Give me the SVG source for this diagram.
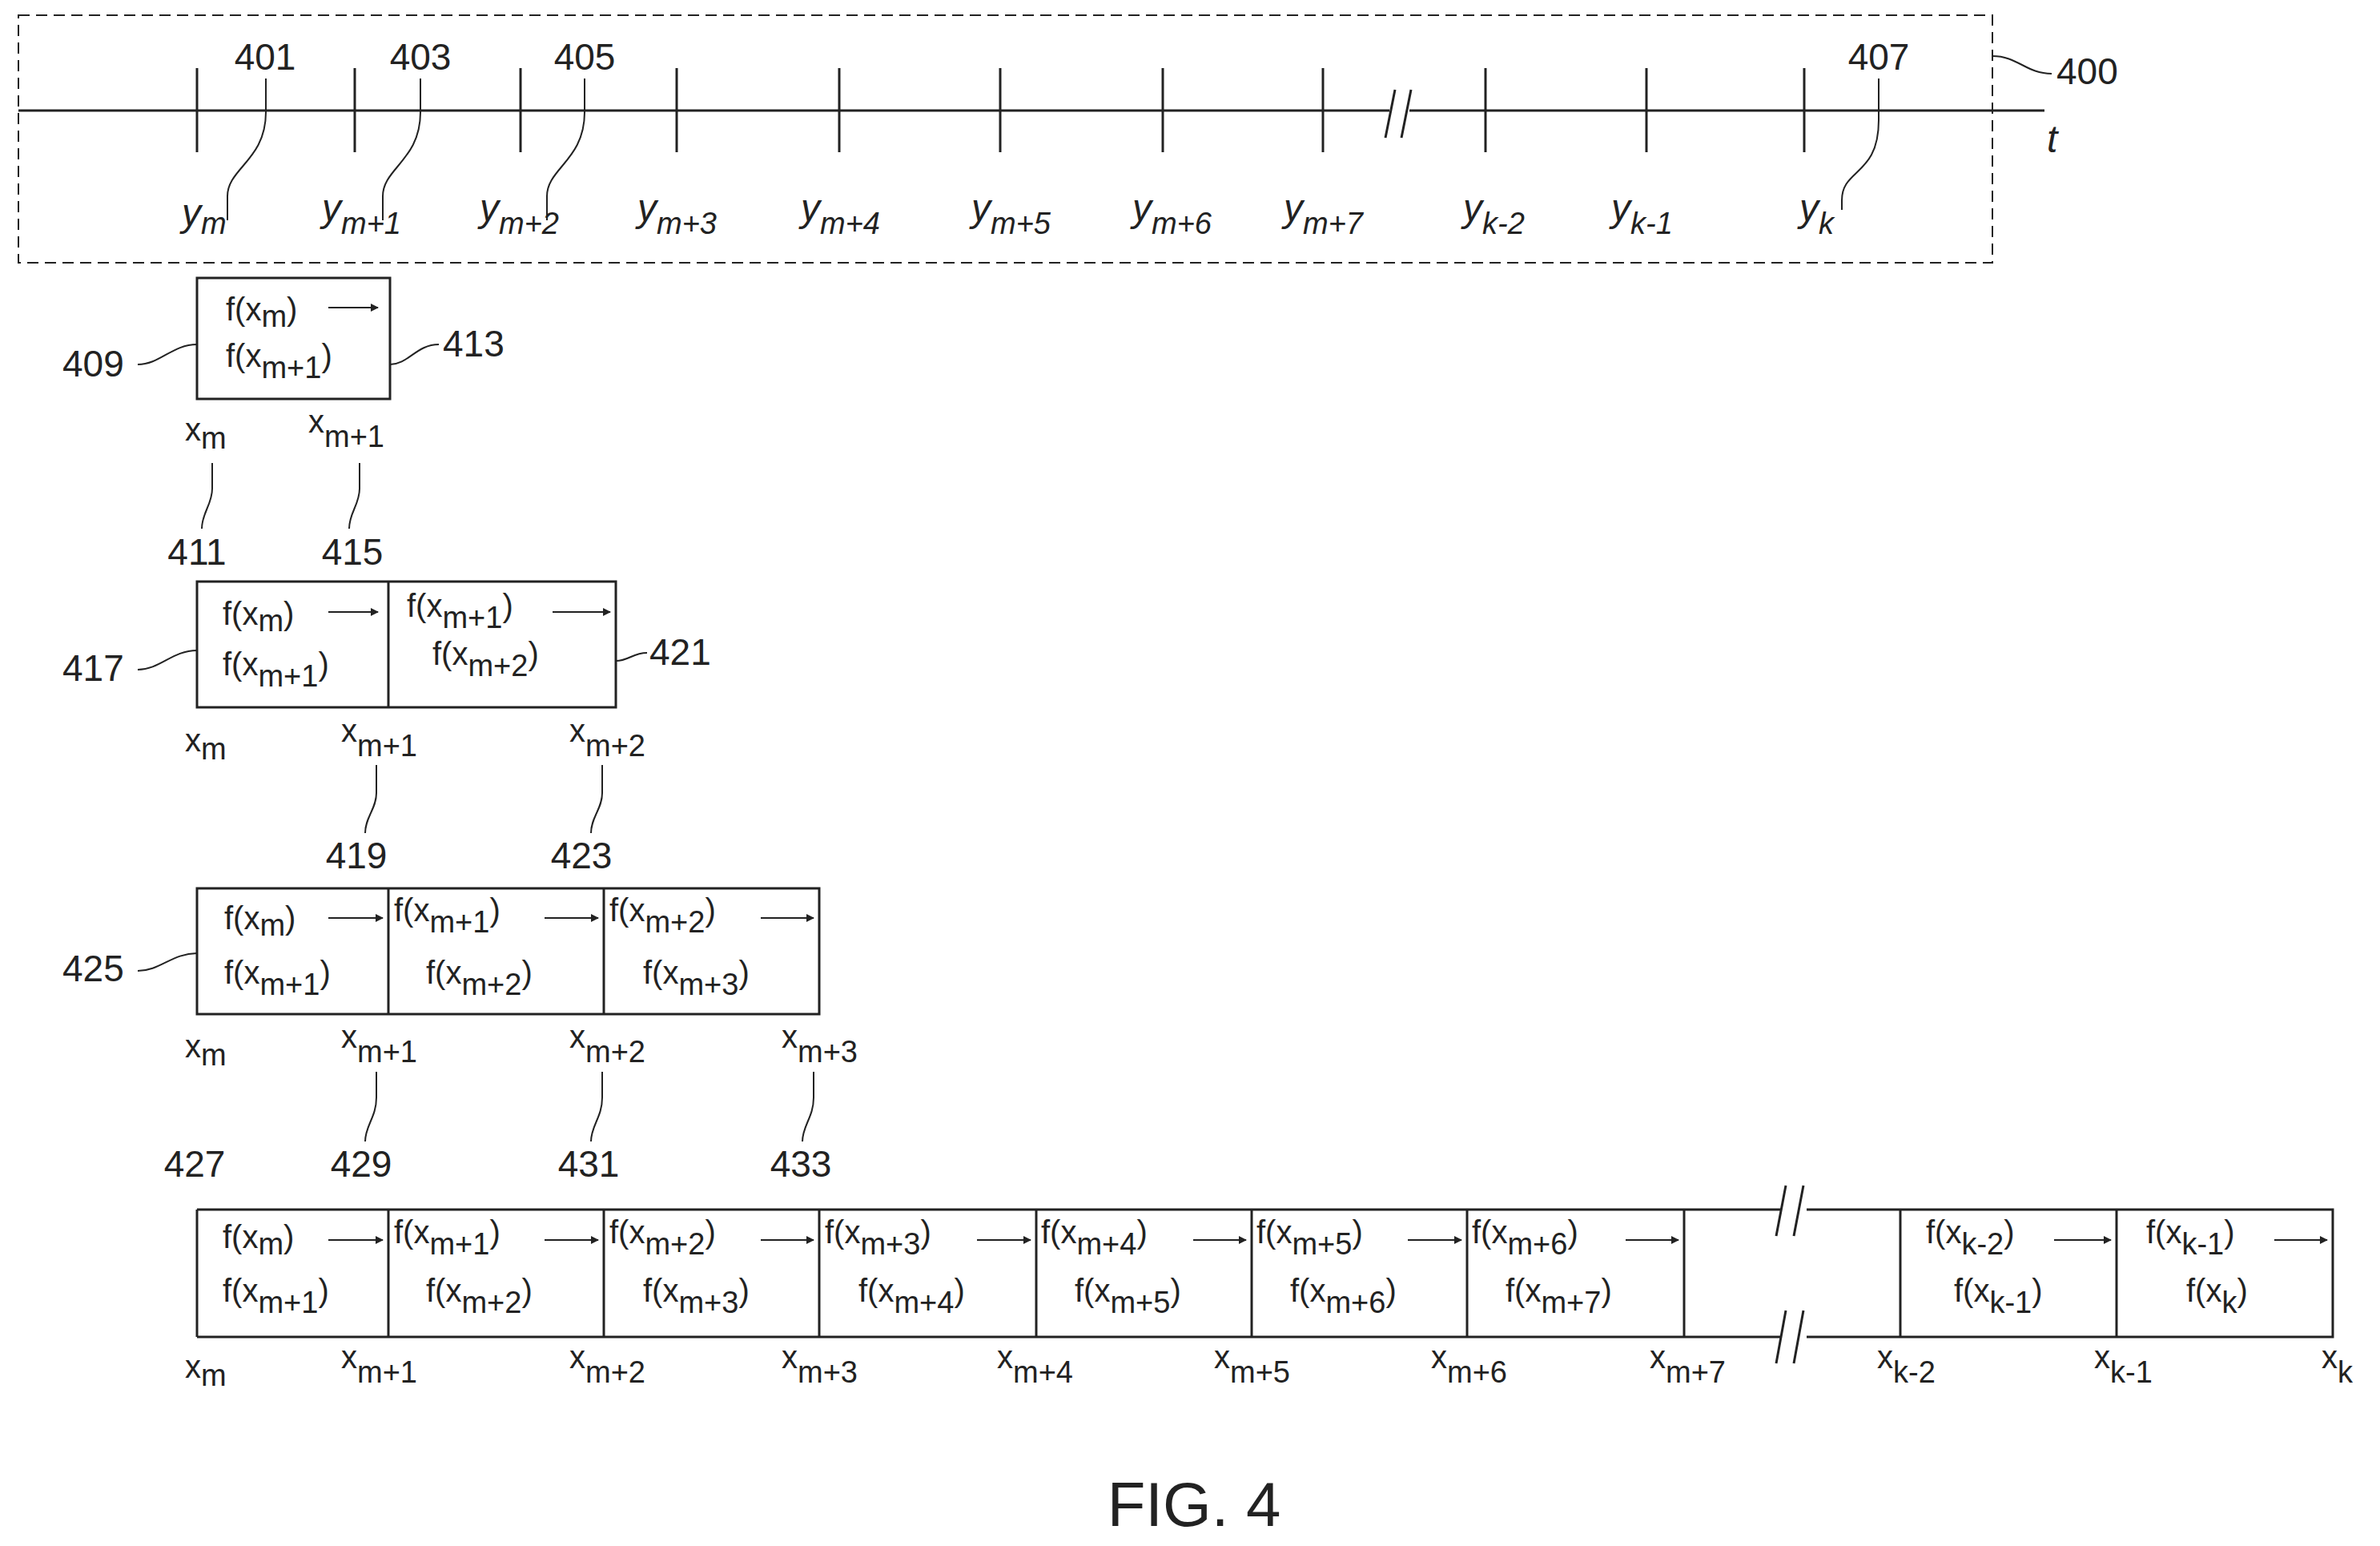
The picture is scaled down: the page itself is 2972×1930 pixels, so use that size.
<svg xmlns="http://www.w3.org/2000/svg" width="2972" height="1930" viewBox="0 0 2972 1930">
<style>
text{font-family:"Liberation Sans",Arial,sans-serif;fill:#222}
.f{font-size:40px}
.n{font-size:46px}
.y{font-size:48px;font-style:italic}
.s{font-size:38px}
.ln{stroke:#222;stroke-width:3;fill:none}
.lt{stroke:#222;stroke-width:2;fill:none}
.bx{stroke:#222;stroke-width:3;fill:#fff}
</style>
<defs>
<marker id="ah" viewBox="0 0 10 10" refX="9" refY="5" markerWidth="5" markerHeight="5" orient="auto"><path d="M0,0 L10,5 L0,10 z" fill="#222"/></marker>
</defs>
<g id="timeline">
<rect x="23" y="19" width="2465" height="309" fill="none" stroke="#222" stroke-width="2" stroke-dasharray="14,8"/>
<line class="ln" x1="23" y1="138" x2="1735" y2="138"/>
<line class="ln" x1="1760" y1="138" x2="2553" y2="138"/>
<path class="ln" d="M1730,172 L1742,112 M1750,172 L1762,112"/>
<g class="ln">
<line x1="246" y1="85" x2="246" y2="190"/><line x1="443" y1="85" x2="443" y2="190"/><line x1="650" y1="85" x2="650" y2="190"/><line x1="845" y1="85" x2="845" y2="190"/><line x1="1048" y1="85" x2="1048" y2="190"/><line x1="1249" y1="85" x2="1249" y2="190"/><line x1="1452" y1="85" x2="1452" y2="190"/><line x1="1652" y1="85" x2="1652" y2="190"/><line x1="1855" y1="85" x2="1855" y2="190"/><line x1="2056" y1="85" x2="2056" y2="190"/><line x1="2253" y1="85" x2="2253" y2="190"/>
</g>
<text class="y" x="2556" y="190">t</text>
<text class="y" x="227" y="282">y<tspan class="s" dy="10">m</tspan></text>
<text class="y" x="402" y="276">y<tspan class="s" dy="16">m+1</tspan></text>
<text class="y" x="599" y="276">y<tspan class="s" dy="16">m+2</tspan></text>
<text class="y" x="796" y="276">y<tspan class="s" dy="16">m+3</tspan></text>
<text class="y" x="1000" y="276">y<tspan class="s" dy="16">m+4</tspan></text>
<text class="y" x="1213" y="276">y<tspan class="s" dy="16">m+5</tspan></text>
<text class="y" x="1414" y="276">y<tspan class="s" dy="16">m+6</tspan></text>
<text class="y" x="1603" y="276">y<tspan class="s" dy="16">m+7</tspan></text>
<text class="y" x="1827" y="276">y<tspan class="s" dy="16">k-2</tspan></text>
<text class="y" x="2012" y="276">y<tspan class="s" dy="16">k-1</tspan></text>
<text class="y" x="2247" y="276">y<tspan class="s" dy="16">k</tspan></text>
<text class="n" x="331" y="87" text-anchor="middle">401</text>
<text class="n" x="525" y="87" text-anchor="middle">403</text>
<text class="n" x="730" y="87" text-anchor="middle">405</text>
<text class="n" x="2346" y="87" text-anchor="middle">407</text>
<text class="n" x="2568" y="105">400</text>
</g>
<g id="box409">
<rect class="bx" x="246" y="347" width="241" height="151"/>
<text class="f" x="282" y="400">f(x<tspan class="s" dy="8">m</tspan><tspan dy="-8">)</tspan></text>
<line class="lt" x1="410" y1="384" x2="472" y2="384" marker-end="url(#ah)"/>
<text class="f" x="282" y="458">f(x<tspan class="s" dy="14">m+1</tspan><tspan dy="-14">)</tspan></text>
<text class="n" x="78" y="470">409</text>
<text class="n" x="553" y="445">413</text>
<text class="f" x="231" y="550">x<tspan class="s" dy="10">m</tspan></text>
<text class="f" x="385" y="540">x<tspan class="s" dy="18">m+1</tspan></text>
<text class="n" x="246" y="705" text-anchor="middle">411</text>
<text class="n" x="440" y="705" text-anchor="middle">415</text>
</g>
<g id="box417">
<rect class="bx" x="246" y="726" width="523" height="157"/>
<line class="ln" x1="485" y1="726" x2="485" y2="883"/>
<text class="f" x="278" y="780">f(x<tspan class="s" dy="8">m</tspan><tspan dy="-8">)</tspan></text>
<line class="lt" x1="410" y1="764" x2="472" y2="764" marker-end="url(#ah)"/>
<text class="f" x="278" y="843">f(x<tspan class="s" dy="14">m+1</tspan><tspan dy="-14">)</tspan></text>
<text class="f" x="508" y="770">f(x<tspan class="s" dy="14">m+1</tspan><tspan dy="-14">)</tspan></text>
<line class="lt" x1="690" y1="764" x2="762" y2="764" marker-end="url(#ah)"/>
<text class="f" x="540" y="830">f(x<tspan class="s" dy="14">m+2</tspan><tspan dy="-14">)</tspan></text>
<text class="n" x="78" y="850">417</text>
<text class="n" x="811" y="830">421</text>
<text class="f" x="231" y="938">x<tspan class="s" dy="10">m</tspan></text>
<text class="f" x="426" y="926">x<tspan class="s" dy="18">m+1</tspan></text>
<text class="f" x="711" y="926">x<tspan class="s" dy="18">m+2</tspan></text>
<text class="n" x="445" y="1084" text-anchor="middle">419</text>
<text class="n" x="726" y="1084" text-anchor="middle">423</text>
</g>
<g id="box425">
<rect class="bx" x="246" y="1109" width="777" height="157"/>
<line class="ln" x1="485" y1="1109" x2="485" y2="1266"/>
<line class="ln" x1="754" y1="1109" x2="754" y2="1266"/>
<text class="f" x="280" y="1160">f(x<tspan class="s" dy="8">m</tspan><tspan dy="-8">)</tspan></text>
<line class="lt" x1="410" y1="1146" x2="478" y2="1146" marker-end="url(#ah)"/>
<text class="f" x="280" y="1228">f(x<tspan class="s" dy="14">m+1</tspan><tspan dy="-14">)</tspan></text>
<text class="f" x="492" y="1150">f(x<tspan class="s" dy="14">m+1</tspan><tspan dy="-14">)</tspan></text>
<line class="lt" x1="680" y1="1146" x2="747" y2="1146" marker-end="url(#ah)"/>
<text class="f" x="532" y="1228">f(x<tspan class="s" dy="14">m+2</tspan><tspan dy="-14">)</tspan></text>
<text class="f" x="761" y="1150">f(x<tspan class="s" dy="14">m+2</tspan><tspan dy="-14">)</tspan></text>
<line class="lt" x1="950" y1="1146" x2="1016" y2="1146" marker-end="url(#ah)"/>
<text class="f" x="803" y="1228">f(x<tspan class="s" dy="14">m+3</tspan><tspan dy="-14">)</tspan></text>
<text class="n" x="78" y="1225">425</text>
<text class="f" x="231" y="1320">x<tspan class="s" dy="10">m</tspan></text>
<text class="f" x="426" y="1308">x<tspan class="s" dy="18">m+1</tspan></text>
<text class="f" x="711" y="1308">x<tspan class="s" dy="18">m+2</tspan></text>
<text class="f" x="976" y="1308">x<tspan class="s" dy="18">m+3</tspan></text>
<text class="n" x="243" y="1469" text-anchor="middle">427</text>
<text class="n" x="451" y="1469" text-anchor="middle">429</text>
<text class="n" x="735" y="1469" text-anchor="middle">431</text>
<text class="n" x="1000" y="1469" text-anchor="middle">433</text>
</g>
<g id="row-full">
<rect x="246" y="1510" width="2667" height="159" fill="#fff" stroke="none"/>
<path class="ln" d="M246,1510 L2224,1510 M2256,1510 L2913,1510 L2913,1669 L2256,1669 M2224,1669 L246,1669 Z"/>
<line class="ln" x1="246" y1="1510" x2="246" y2="1669"/>
<path class="ln" d="M2218,1543 L2230,1480 M2240,1543 L2252,1480 M2218,1702 L2230,1636 M2240,1702 L2252,1636"/>
<g class="ln">
<line x1="485" y1="1510" x2="485" y2="1669"/><line x1="754" y1="1510" x2="754" y2="1669"/><line x1="1023" y1="1510" x2="1023" y2="1669"/><line x1="1294" y1="1510" x2="1294" y2="1669"/><line x1="1563" y1="1510" x2="1563" y2="1669"/><line x1="1832" y1="1510" x2="1832" y2="1669"/><line x1="2103" y1="1510" x2="2103" y2="1669"/><line x1="2373" y1="1510" x2="2373" y2="1669"/><line x1="2643" y1="1510" x2="2643" y2="1669"/>
</g>
<g class="lt">
<line x1="410" y1="1548" x2="478" y2="1548" marker-end="url(#ah)"/>
<line x1="680" y1="1548" x2="747" y2="1548" marker-end="url(#ah)"/>
<line x1="950" y1="1548" x2="1016" y2="1548" marker-end="url(#ah)"/>
<line x1="1220" y1="1548" x2="1287" y2="1548" marker-end="url(#ah)"/>
<line x1="1490" y1="1548" x2="1556" y2="1548" marker-end="url(#ah)"/>
<line x1="1758" y1="1548" x2="1825" y2="1548" marker-end="url(#ah)"/>
<line x1="2030" y1="1548" x2="2096" y2="1548" marker-end="url(#ah)"/>
<line x1="2565" y1="1548" x2="2636" y2="1548" marker-end="url(#ah)"/>
<line x1="2840" y1="1548" x2="2906" y2="1548" marker-end="url(#ah)"/>
</g>
<text class="f" x="278" y="1558">f(x<tspan class="s" dy="8">m</tspan><tspan dy="-8">)</tspan></text>
<text class="f" x="278" y="1625">f(x<tspan class="s" dy="14">m+1</tspan><tspan dy="-14">)</tspan></text>
<text class="f" x="492" y="1552">f(x<tspan class="s" dy="14">m+1</tspan><tspan dy="-14">)</tspan></text>
<text class="f" x="532" y="1625">f(x<tspan class="s" dy="14">m+2</tspan><tspan dy="-14">)</tspan></text>
<text class="f" x="761" y="1552">f(x<tspan class="s" dy="14">m+2</tspan><tspan dy="-14">)</tspan></text>
<text class="f" x="803" y="1625">f(x<tspan class="s" dy="14">m+3</tspan><tspan dy="-14">)</tspan></text>
<text class="f" x="1030" y="1552">f(x<tspan class="s" dy="14">m+3</tspan><tspan dy="-14">)</tspan></text>
<text class="f" x="1072" y="1625">f(x<tspan class="s" dy="14">m+4</tspan><tspan dy="-14">)</tspan></text>
<text class="f" x="1300" y="1552">f(x<tspan class="s" dy="14">m+4</tspan><tspan dy="-14">)</tspan></text>
<text class="f" x="1342" y="1625">f(x<tspan class="s" dy="14">m+5</tspan><tspan dy="-14">)</tspan></text>
<text class="f" x="1569" y="1552">f(x<tspan class="s" dy="14">m+5</tspan><tspan dy="-14">)</tspan></text>
<text class="f" x="1611" y="1625">f(x<tspan class="s" dy="14">m+6</tspan><tspan dy="-14">)</tspan></text>
<text class="f" x="1838" y="1552">f(x<tspan class="s" dy="14">m+6</tspan><tspan dy="-14">)</tspan></text>
<text class="f" x="1880" y="1625">f(x<tspan class="s" dy="14">m+7</tspan><tspan dy="-14">)</tspan></text>
<text class="f" x="2405" y="1552">f(x<tspan class="s" dy="14">k-2</tspan><tspan dy="-14">)</tspan></text>
<text class="f" x="2440" y="1625">f(x<tspan class="s" dy="14">k-1</tspan><tspan dy="-14">)</tspan></text>
<text class="f" x="2680" y="1552">f(x<tspan class="s" dy="14">k-1</tspan><tspan dy="-14">)</tspan></text>
<text class="f" x="2730" y="1625">f(x<tspan class="s" dy="14">k</tspan><tspan dy="-14">)</tspan></text>
<text class="f" x="231" y="1720">x<tspan class="s" dy="10">m</tspan></text>
<text class="f" x="426" y="1708">x<tspan class="s" dy="18">m+1</tspan></text>
<text class="f" x="711" y="1708">x<tspan class="s" dy="18">m+2</tspan></text>
<text class="f" x="976" y="1708">x<tspan class="s" dy="18">m+3</tspan></text>
<text class="f" x="1245" y="1708">x<tspan class="s" dy="18">m+4</tspan></text>
<text class="f" x="1516" y="1708">x<tspan class="s" dy="18">m+5</tspan></text>
<text class="f" x="1787" y="1708">x<tspan class="s" dy="18">m+6</tspan></text>
<text class="f" x="2060" y="1708">x<tspan class="s" dy="18">m+7</tspan></text>
<text class="f" x="2344" y="1708">x<tspan class="s" dy="18">k-2</tspan></text>
<text class="f" x="2615" y="1708">x<tspan class="s" dy="18">k-1</tspan></text>
<text class="f" x="2899" y="1708">x<tspan class="s" dy="18">k</tspan></text>
</g>
<g id="connectors" class="lt">
<path d="M332,98 L332,140 C332,200 284,210 284,245 L284,275"/>
<path d="M525,98 L525,140 C525,200 478,210 478,245 L478,275"/>
<path d="M730,98 L730,140 C730,200 683,210 683,245 L683,275"/>
<path d="M2346,98 L2346,150 C2346,220 2300,210 2300,250 L2300,262"/>
<path d="M2488,70 C2520,70 2530,92 2562,92"/>
<path d="M172,455 C200,455 215,430 246,430"/>
<path d="M487,455 C510,455 520,430 548,430"/>
<path d="M265,578 L265,610 C265,630 252,640 252,660"/>
<path d="M449,578 L449,610 C449,630 436,640 436,660"/>
<path d="M172,836 C200,836 215,812 246,812"/>
<path d="M769,825 C785,825 790,815 808,815"/>
<path d="M470,955 L470,990 C470,1010 456,1020 456,1040"/>
<path d="M752,955 L752,990 C752,1010 738,1020 738,1040"/>
<path d="M172,1212 C200,1212 215,1190 246,1190"/>
<path d="M470,1338 L470,1370 C470,1395 456,1405 456,1425"/>
<path d="M752,1338 L752,1370 C752,1395 738,1405 738,1425"/>
<path d="M1016,1338 L1016,1370 C1016,1395 1002,1405 1002,1425"/>
</g>
<text x="1491" y="1905" text-anchor="middle" style="font-size:78px">FIG. 4</text>
</svg>
